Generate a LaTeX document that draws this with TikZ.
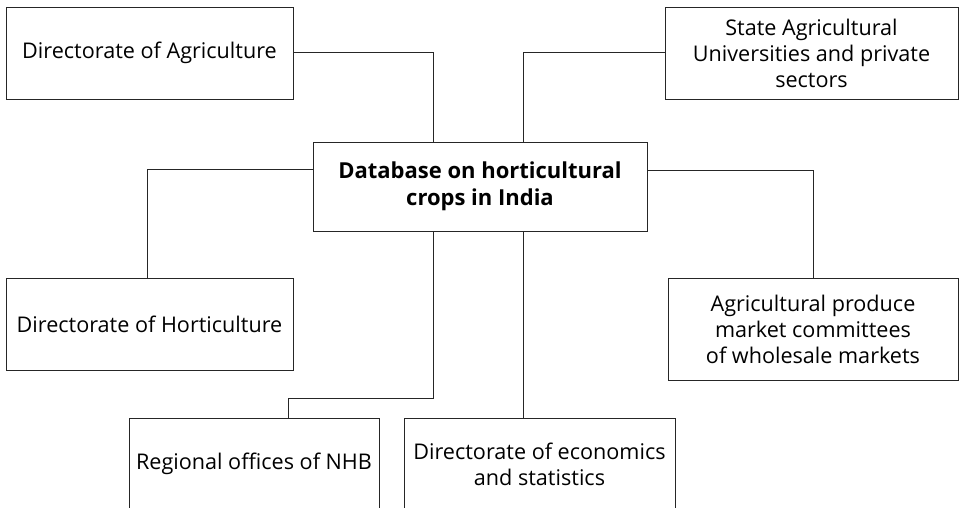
\documentclass[tikz,border=0pt]{standalone}
\usepackage{fontspec}
\setmainfont{Open Sans}[Ligatures=NoCommon]
\begin{document}
\begin{tikzpicture}[x=1pt,y=-1pt,
  box/.style={draw=black!85,line width=0.9pt,rectangle,inner sep=0pt,align=center,
    font=\fontsize{21.6}{26}\selectfont},
  conn/.style={draw=black!85,line width=0.9pt}]
\clip (0,0) rectangle (960,508);
\fill[white] (0,0) rectangle (960,508);
\node[box,minimum width=287pt,minimum height=92pt] (A) at (149.5,53) {Directorate of Agriculture};
\node[box,minimum width=293pt,minimum height=92pt] (S) at (811.5,53) {State Agricultural\\Universities and private\\sectors};
\node[box,minimum width=334pt,minimum height=89pt,font=\fontsize{22}{27}\selectfont\bfseries] (C) at (480,186.5) {Database on horticultural\\crops in India};
\node[box,minimum width=287pt,minimum height=92pt] (H) at (149.5,324) {Directorate of Horticulture};
\node[box,minimum width=290pt,minimum height=102pt] (P) at (813,329) {Agricultural produce\\market committees\\of wholesale markets};
\node[box,minimum width=250pt,minimum height=92pt] (R) at (254,464) {Regional offices of NHB};
\node[box,minimum width=271pt,minimum height=92pt] (E) at (539.5,464) {Directorate of economics\\and statistics};
\coordinate (k) at (288,398);
\draw[conn] ([yshift=1]A.east) -| ([xshift=-47]C.north);
\draw[conn] ([yshift=1]S.west) -| ([xshift=43]C.north);
\draw[conn] ([yshift=17.5]C.west) -| ([xshift=-2.5]H.north);
\draw[conn] ([yshift=16.5]C.east) -| (P.north);
\draw[conn] ([xshift=-47]C.south) |- (k) -- (k |- R.north);
\draw[conn] ([xshift=43]C.south) -- ([xshift=43]C.south |- E.north);
\end{tikzpicture}
\end{document}
